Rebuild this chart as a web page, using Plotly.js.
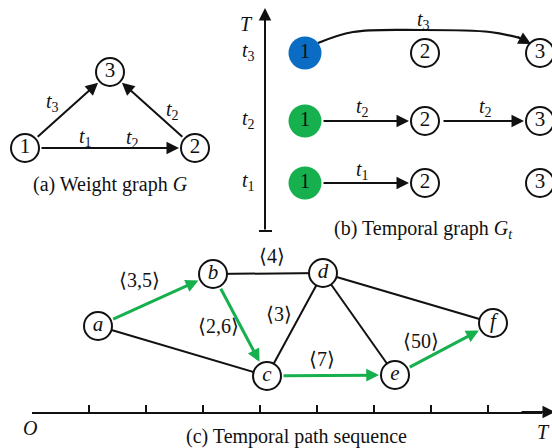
<!DOCTYPE html>
<html>
<head>
<meta charset="utf-8">
<script src="https://cdn.plot.ly/plotly-3.0.1.min.js"></script>
<style>
  html, body { margin: 0; padding: 0; background: #ffffff; }
  #fig { width: 552px; height: 448px; }
</style>
</head>
<body>
<div id="fig"></div>
<script>
// ---------- (a) weight graph G ----------
const wNames = ['1', '2', '3'];
const wX = [25, 195, 110];
const wY = [148, 148, 72];
const wEdges = [[0, 1], [0, 2], [1, 2]];           // directed: from -> to
const wEdgeText = ['<i>t</i><sub>1</sub>', '<i>t</i><sub>2</sub>', '<i>t</i><sub>3</sub>', '<i>t</i><sub>2</sub>'];
const wEdgeTextX = [85, 132, 52, 172];
const wEdgeTextY = [137, 138, 102, 110];

// ---------- (b) temporal graph G_t ----------
const tNames = ['1', '2', '3'];
const tColX = [305, 425, 540];
const tRowY = [183, 121, 53];                       // rows t1, t2, t3
const tRowText = ['<i>t</i><sub>1</sub>', '<i>t</i><sub>2</sub>', '<i>t</i><sub>3</sub>'];
const tSource = ['green', 'green', 'blue'];         // colour of vertex 1 in each row
const tEdges = [[0, 0, 1], [1, 0, 1], [1, 1, 2]];   // [row, from, to]
const tEdgeText = ['<i>t</i><sub>1</sub>', '<i>t</i><sub>2</sub>', '<i>t</i><sub>2</sub>', '<i>t</i><sub>3</sub>'];
const tEdgeTextX = [362, 362, 485, 423];
const tEdgeTextY = [170, 107, 107, 20];
const tCurveX = [318, 353, 420, 490, 520];          // row t3 edge 1 -> 3, arched
const tCurveY = [43, 32, 30, 32, 38];

// ---------- (c) temporal path sequence ----------
const pNames = ['a', 'b', 'c', 'd', 'e', 'f'];
const pX = [98, 213, 267, 323, 395, 493];
const pY = [326, 274, 376, 273, 375, 323];
const pPath = [[0, 1], [1, 2], [2, 4], [4, 5]];     // highlighted directed path
const pOther = [[0, 2], [1, 3], [2, 3], [3, 4], [3, 5]];
const pEdgeText = ['\u27E83,5\u27E9', '\u27E82,6\u27E9', '\u27E84\u27E9', '\u27E83\u27E9', '\u27E87\u27E9', '\u27E850\u27E9'];
const pEdgeTextX = [139, 218, 272, 279, 322, 421];
const pEdgeTextY = [280, 326, 256, 314, 359, 341];

const captions = ['(a) Weight graph <i>G</i>', '(b) Temporal graph <i>G<sub>t</sub></i>', '(c) Temporal path sequence'];
const captionX = [110, 423, 296];
const captionY = [184, 229, 436];

const SERIF = '"Liberation Serif", "Times New Roman", serif';
const BLACK = '#111111';
const GREEN = '#17B04E';
const BLUE = '#0A6DC3';
const R = 15;

const traces = [];
const annotations = [];

function arrow(x0, y0, x1, y1, color, width, size, s0, s1) {
  return {
    x: x1, y: y1, ax: x0, ay: y0,
    xref: 'x', yref: 'y', axref: 'x', ayref: 'y',
    showarrow: true, arrowhead: 2, arrowsize: size, arrowwidth: width,
    arrowcolor: color, standoff: s1, startstandoff: s0, text: ''
  };
}
function label(text, x, y, size, xanchor) {
  return {
    x: x, y: y, xref: 'x', yref: 'y', text: text, showarrow: false,
    xanchor: xanchor || 'center', yanchor: 'middle',
    font: { family: SERIF, size: size || 19, color: BLACK }
  };
}
function nodes(xs, ys, names, fills, italic) {
  traces.push({
    x: xs, y: ys, mode: 'markers+text', type: 'scatter',
    text: names.map(n => italic ? '<i>' + n + '</i>' : n),
    textposition: 'middle center',
    textfont: { family: SERIF, size: 21, color: BLACK },
    marker: {
      opacity: 1,
      size: fills.map(f => f === 'white' ? 28 : 33),
      color: fills.map(f => f === 'green' ? GREEN : f === 'blue' ? BLUE : '#ffffff'),
      line: { color: BLACK, width: fills.map(f => f === 'white' ? 2 : 0) }
    },
    hoverinfo: 'skip', showlegend: false, cliponaxis: false
  });
}

// (a)
wEdges.forEach(([i, j]) => annotations.push(arrow(wX[i], wY[i], wX[j], wY[j], BLACK, 2, 1.25, R, R + 1)));
wEdgeText.forEach((t, k) => annotations.push(label(t, wEdgeTextX[k], wEdgeTextY[k], 20)));
nodes(wX, wY, wNames, ['white', 'white', 'white'], false);

// (b) time axis with a flat foot at its base
annotations.push(arrow(265, 231, 265, 8, BLACK, 2, 1.25, 0, 0));
const shapes = [{
  type: 'line', xref: 'x', yref: 'y', x0: 259, x1: 272, y0: 231, y1: 231,
  line: { color: BLACK, width: 2 }
}];
annotations.push(label('<i>T</i>', 246, 24, 20));
tRowText.forEach((t, r) => annotations.push(label(t, 248, tRowY[r] - 2, 20)));
tEdges.forEach(([r, i, j]) => annotations.push(arrow(tColX[i], tRowY[r], tColX[j], tRowY[r], BLACK, 2, 1.25, R + 2, R + 1)));
traces.push({
  x: tCurveX, y: tCurveY, mode: 'lines', type: 'scatter',
  line: { color: BLACK, width: 2.2, shape: 'spline', smoothing: 1 },
  hoverinfo: 'skip', showlegend: false
});
annotations.push(arrow(tCurveX[4] - 4, tCurveY[4] - 2, tCurveX[4] + 11, tCurveY[4] + 6, BLACK, 2, 1.25, 0, 0));
tEdgeText.forEach((t, k) => annotations.push(label(t, tEdgeTextX[k], tEdgeTextY[k], 20)));
tRowY.forEach((y, r) => {
  nodes(tColX, tColX.map(() => y), tNames, [tSource[r], 'white', 'white'], false);
});

// (c)
pOther.forEach(([i, j]) => traces.push({
  x: [pX[i], pX[j]], y: [pY[i], pY[j]], mode: 'lines', type: 'scatter',
  line: { color: BLACK, width: 2 }, hoverinfo: 'skip', showlegend: false
}));
pPath.forEach(([i, j]) => annotations.push(arrow(pX[i], pY[i], pX[j], pY[j], GREEN, 3, 0.85, R, R + 1)));
pEdgeText.forEach((t, k) => annotations.push(label(t, pEdgeTextX[k], pEdgeTextY[k], 20)));
nodes(pX, pY, pNames, pNames.map(() => 'white'), true);

// time axis of (c): ticks drawn by a dedicated axis, arrow tip by an annotation
traces.push({ x: [], y: [], xaxis: 'x2', yaxis: 'y2', type: 'scatter', hoverinfo: 'skip', showlegend: false });
annotations.push(arrow(520, 412, 555, 412, BLACK, 2, 1.25, 0, 0));
annotations.push(label('<i>O</i>', 30, 428, 20));
annotations.push(label('<i>T</i>', 552, 432, 20, 'right'));

captions.forEach((t, k) => annotations.push(label(t, captionX[k], captionY[k], 20)));

const layout = {
  width: 552, height: 448,
  margin: { l: 0, r: 0, t: 0, b: 0, pad: 0 },
  paper_bgcolor: '#ffffff', plot_bgcolor: 'rgba(0,0,0,0)',
  showlegend: false,
  font: { family: SERIF },
  xaxis: { range: [0, 552], visible: false, fixedrange: true },
  yaxis: { range: [448, 0], visible: false, fixedrange: true },
  xaxis2: {
    domain: [31.5 / 552, 542 / 552], range: [-0.5, 510], anchor: 'y2',
    showline: true, linecolor: BLACK, linewidth: 2,
    ticks: 'inside', tick0: 0, dtick: 57, ticklen: 7, tickwidth: 1.5, tickcolor: BLACK,
    showticklabels: false, showgrid: false, zeroline: false, fixedrange: true
  },
  yaxis2: { domain: [36 / 448, 60 / 448], range: [0, 1], anchor: 'x2', visible: false, fixedrange: true },
  shapes: shapes,
  annotations: annotations
};

Plotly.newPlot('fig', traces, layout, { staticPlot: true, displayModeBar: false });
</script>
</body>
</html>
